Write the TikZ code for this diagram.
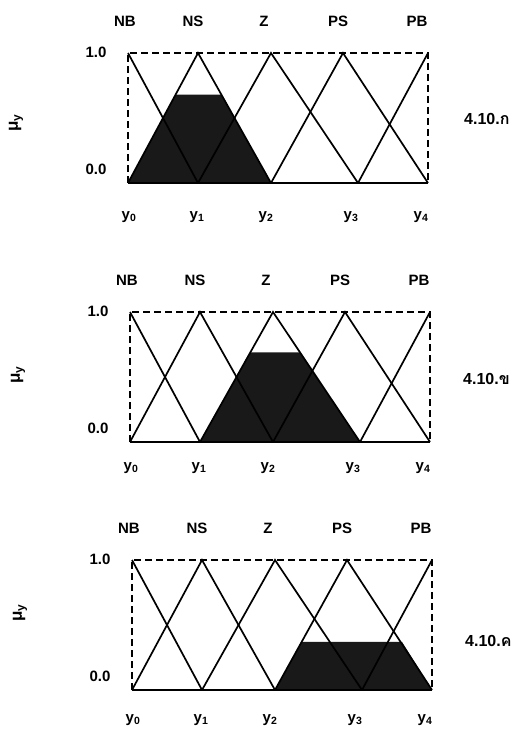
\documentclass[tikz,border=0pt]{standalone}
\usepackage{fontspec}
\setmainfont{Liberation Sans}
\newfontfamily\thaifont[Script=Thai]{Loma}
\begin{document}
\begin{tikzpicture}[x=1pt,y=-1pt]
\tikzset{mfline/.style={line width=1.7pt},
  boxdash/.style={line width=1.7pt, dash pattern=on 7pt off 4pt},
  darkfill/.style={fill=black!90},
  lbl/.style={font=\bfseries\fontsize{15}{16}\selectfont, inner sep=0pt},
  mulbl/.style={font=\bfseries\fontsize{17}{17}\selectfont, inner sep=0pt, rotate=90},
  figlbl/.style={font=\bfseries\fontsize{16}{17}\selectfont, inner sep=0pt, anchor=west}}
\useasboundingbox (0,0) rectangle (516,733);
\foreach \i/\ox/\oy/\ly/\my/\tx/\ty/\tc/\qa/\qb/\qc/\qd/\qh in {1/128/53/164/70/336/66/3585/0/47.6/93.4/143/41.6, 2/130/312/156/63/333/67/3586/70/120.4/170/230/40.3, 3/132/560/160/53/333/81/3588/143/169.6/270/300/81.9}{
  \begin{scope}[shift={(\ox,\oy)}]
    \coordinate (t0-\i) at (0,0);
    \coordinate (t1-\i) at (70,0);
    \coordinate (t2-\i) at (143,0);
    \coordinate (t3-\i) at (215,0);
    \coordinate (t4-\i) at (300,0);
    \coordinate (b0-\i) at (0,130);
    \coordinate (b1-\i) at (70,130);
    \coordinate (b2-\i) at (143,130);
    \coordinate (b3-\i) at (230,130);
    \coordinate (b4-\i) at (300,130);
    \fill[darkfill] (\qa,130) -- (\qb,\qh) -- (\qc,\qh) -- (\qd,130) -- cycle;
    \draw[mfline] (t0-\i) -- (b1-\i);
    \draw[mfline] (b0-\i) -- (t1-\i) -- (b2-\i);
    \draw[mfline] (b1-\i) -- (t2-\i) -- (b3-\i);
    \draw[mfline] (b2-\i) -- (t3-\i) -- (b4-\i);
    \draw[mfline] (b3-\i) -- (t4-\i);
    \draw[boxdash] (b0-\i) -- (t0-\i) -- (t4-\i) -- (b4-\i);
    \draw[mfline] (b0-\i) -- (b4-\i);
    \node[lbl] (nb-\i) at (-3,-32) {NB};
    \node[lbl] (ns-\i) at (65,-32) {NS};
    \node[lbl] (z-\i) at (136,-32) {Z};
    \node[lbl] (ps-\i) at (210,-32) {PS};
    \node[lbl] (pb-\i) at (289,-32) {PB};
    \node[lbl] (one-\i) at (-32,-1) {1.0};
    \node[lbl] (zero-\i) at (-32,116) {0.0};
    \node[mulbl] (mu-\i) at (-112,\my) {μ\textsubscript{y}};
    \node[figlbl] (fig-\i) at (\tx,\ty) {4.10.{\thaifont\bfseries\char\tc}};
    \node[lbl] (ya-\i) at (1,\ly) {y\textsubscript{0}};
    \node[lbl] (yb-\i) at (69,\ly) {y\textsubscript{1}};
    \node[lbl] (yc-\i) at (138,\ly) {y\textsubscript{2}};
    \node[lbl] (yd-\i) at (223,\ly) {y\textsubscript{3}};
    \node[lbl] (ye-\i) at (293,\ly) {y\textsubscript{4}};
  \end{scope}
}
\end{tikzpicture}
\end{document}
